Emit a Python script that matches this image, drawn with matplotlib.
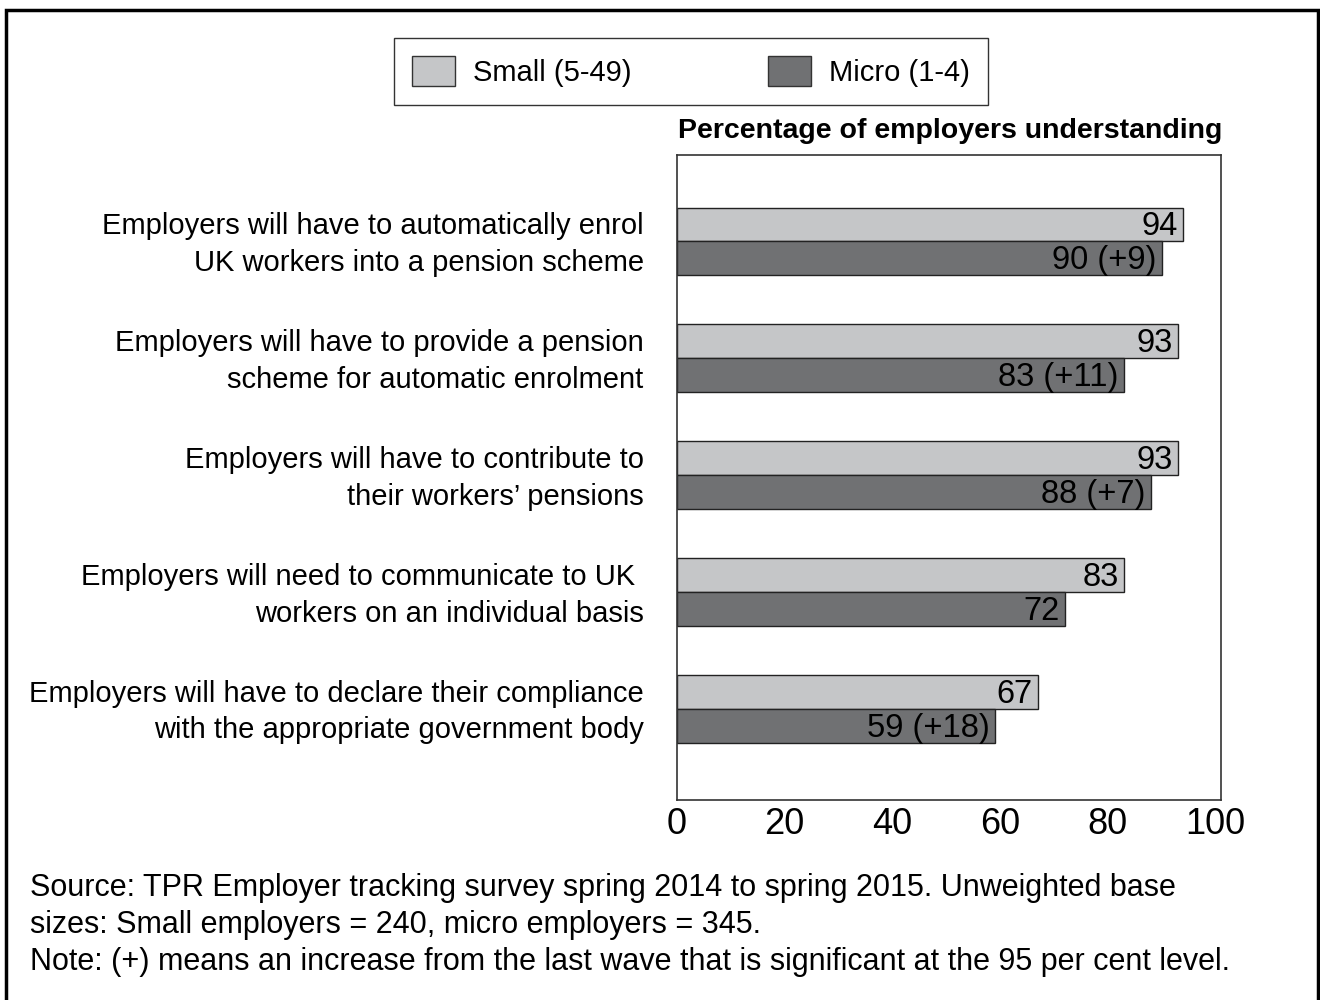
import matplotlib.pyplot as plt
from matplotlib.patches import Patch, Rectangle
from matplotlib.transforms import ScaledTranslation
import numpy as np

plt.rcParams['font.family'] = ['Liberation Sans', 'DejaVu Sans']

# survey results, % of employers understanding each duty
categories = ['Employers will have to automatically enrol\nUK workers into a pension scheme',
              'Employers will have to provide a pension\nscheme for automatic enrolment',
              'Employers will have to contribute to\ntheir workers\u2019 pensions',
              'Employers will need to communicate to UK \nworkers on an individual basis',
              'Employers will have to declare their compliance\nwith the appropriate government body']
small = [94, 93, 93, 83, 67]
micro = [90, 83, 88, 72, 59]
micro_change = ['+9', '+11', '+7', '', '+18']
series_names = ['Small (5-49)', 'Micro (1-4)']
xticks = [0, 20, 40, 60, 80, 100]

light = '#c5c6c8'
dark = '#707173'

fig = plt.figure(figsize=(13.2, 10), dpi=100)
ax = fig.add_axes([677/1320, 0.2, (1221-677)/1320, 0.645])

y = np.arange(len(categories))
h = 0.29
ax.barh(y - h/2, small, height=h, color=light, edgecolor='#222222', linewidth=1)
ax.barh(y + h/2, micro, height=h, color=dark, edgecolor='#222222', linewidth=1)

for i in range(len(categories)):
    ax.text(small[i] - 1, y[i] - h/2 + 0.02, str(small[i]), ha='right', va='center', fontsize=23.5)
    lab = str(micro[i])
    if micro_change[i]:
        lab += ' (' + micro_change[i] + ')'
    ax.text(micro[i] - 1, y[i] + h/2 + 0.02, lab, ha='right', va='center', fontsize=23.5)

ax.set_xlim(0, 101)
ax.set_ylim(4.78, -0.74)
ax.set_xticks(xticks)
ax.set_xticklabels([str(t) for t in xticks], fontsize=26)
ax.set_yticks(y)
ax.set_yticklabels(categories, fontsize=21, linespacing=1.39)
ax.tick_params(axis='both', length=0)
ax.tick_params(axis='y', pad=24)
ax.tick_params(axis='x', pad=5)
# nudge the category labels up a little
up = ScaledTranslation(0, 4/100, fig.dpi_scale_trans)
for lbl in ax.get_yticklabels():
    lbl.set_transform(lbl.get_transform() + up)
for s in ax.spines.values():
    s.set_color('#333333')
    s.set_linewidth(1.2)

fig.text(678/1320, 1 - 131/1000, 'Percentage of employers understanding',
         fontsize=20.5, fontweight='bold', ha='left', va='center')

handles = [Patch(facecolor=light, edgecolor='#333333', linewidth=1),
           Patch(facecolor=dark, edgecolor='#333333', linewidth=1)]
leg = fig.legend(handles, series_names, loc='center', bbox_to_anchor=(691/1320, 1 - 71.5/1000),
                 ncol=2, fontsize=21, frameon=True, fancybox=False, edgecolor='black',
                 handlelength=1.45, handleheight=1.2, handletextpad=0.62, columnspacing=4.7,
                 borderpad=0.62, borderaxespad=0)
leg.get_frame().set_linewidth(1)

fig.text(30/1320, 1 - 925/1000,
         'Source: TPR Employer tracking survey spring 2014 to spring 2015. Unweighted base\n'
         'sizes: Small employers = 240, micro employers = 345.\n'
         'Note: (+) means an increase from the last wave that is significant at the 95 per cent level.',
         fontsize=22, ha='left', va='center', linespacing=1.3)

# outer frame, open at the bottom edge
fig.patches.append(Rectangle((6/1320, -0.02), 1312/1320, 1.01, transform=fig.transFigure,
                             fill=False, edgecolor='black', linewidth=2.5))

fig.savefig('out.png', dpi=100)
